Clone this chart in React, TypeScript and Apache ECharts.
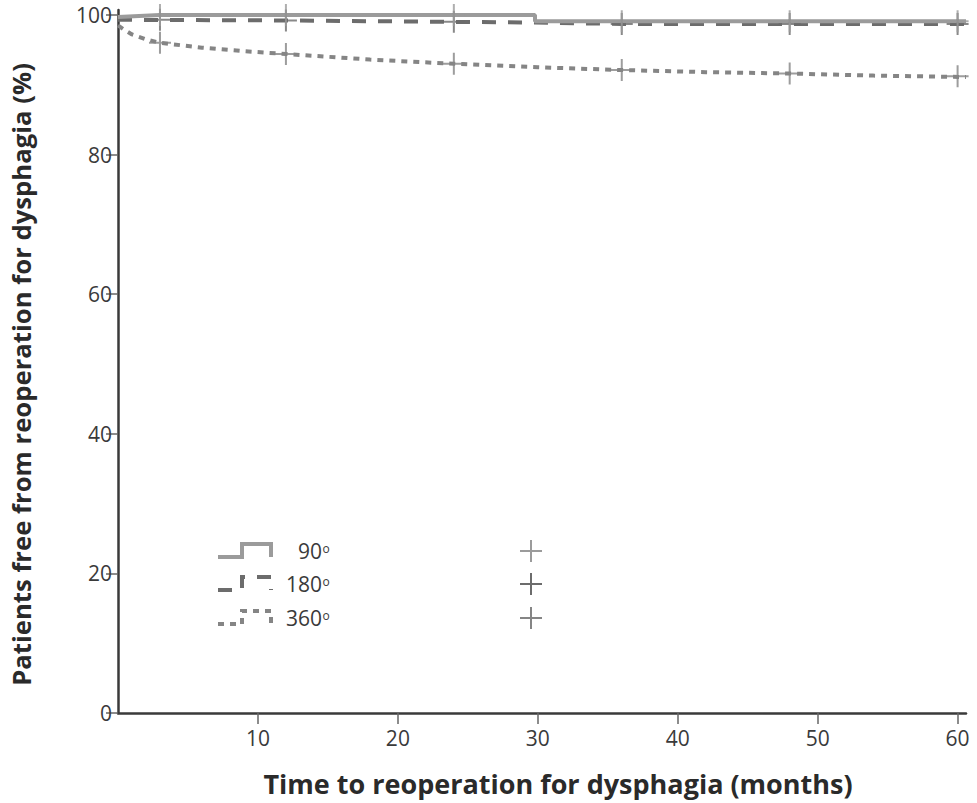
import React, { useEffect, useRef } from "react";
import * as echarts from "echarts";

// Data
const xTicks = [10, 20, 30, 40, 50, 60];
const yTicks = [0, 20, 40, 60, 80, 100];

const series90: [number, number][] = [
  [0, 99.7], [3, 100], [29.8, 100], [29.8, 99.1], [60.6, 99.1],
];
const series180: [number, number][] = [
  [0, 99.3], [12, 99.2], [24, 99.0], [29.8, 98.9], [36, 98.7], [60.6, 98.7],
];
const series360: [number, number][] = [
  [0, 98.5], [0.5, 97.8], [1, 97.2], [2, 96.5], [3, 96.0], [6, 95.3], [9, 94.8],
  [12, 94.4], [18, 93.6], [24, 93.0], [30, 92.5], [36, 92.1], [42, 91.8],
  [48, 91.6], [54, 91.3], [60.6, 91.1],
];
const censor90: [number, number][] = [[3, 100], [12, 100], [24, 100], [36, 99.1], [48, 99.1], [60, 99.1]];
const censor180: [number, number][] = [[3, 99.3], [12, 99.2], [24, 99.0], [36, 98.7], [48, 98.7], [60, 98.7]];
const censor360: [number, number][] = [[3, 96.0], [12, 94.4], [24, 93.0], [36, 92.1], [48, 91.6], [60, 91.2]];

const legendNames = ["90", "180", "360"];

const C90 = "#9b9b9b";
const C180 = "#6c6c6c";
const C360 = "#858585";
const FONT = "'Open Sans', 'Noto Sans', sans-serif";
const PLUS = "path://M-1,-11H1V-1H11V1H1V11H-1V1H-11V-1H-1Z";

export default function App() {
  const ref = useRef<HTMLDivElement>(null);
  useEffect(() => {
    if (!ref.current) return;
    const chart = echarts.init(ref.current, undefined, { renderer: "svg" });
    const legendColors = [C90, C180, C360];
    const legendY = [551, 584, 618];
    const dashes: any[] = [null, [14, 12], [6, 6]];
    const graphics: any[] = [];
    legendNames.forEach((n, i) => {
      const y = legendY[i];
      graphics.push({
        type: "polyline",
        shape: { points: [[218, y + 6], [242, y + 6], [242, y - 7], [271, y - 7], [271, y + 6]] },
        style: { stroke: legendColors[i], lineWidth: 4, fill: null, lineDash: dashes[i] },
      });
      graphics.push({
        type: "text",
        x: 322,
        y: y,
        style: {
          text: n,
          align: "right",
          verticalAlign: "middle",
          fontSize: 21,
          fontFamily: FONT,
          fill: "#3a3a3a",
        },
      });
      graphics.push({
        type: "text",
        x: 322.5,
        y: y - 9,
        style: {
          text: "o",
          align: "left",
          verticalAlign: "top",
          fontSize: 12,
          fontFamily: FONT,
          fill: "#3a3a3a",
        },
      });
      graphics.push({
        type: "line",
        shape: { x1: 520, y1: y, x2: 542, y2: y },
        style: { stroke: legendColors[i], lineWidth: 2 },
      });
      graphics.push({
        type: "line",
        shape: { x1: 531, y1: y - 11, x2: 531, y2: y + 11 },
        style: { stroke: legendColors[i], lineWidth: 2 },
      });
    });

    chart.setOption({
      animation: false,
      textStyle: { fontFamily: FONT },
      grid: { left: 116.7, right: 11, top: 10, bottom: 90, containLabel: false },
      xAxis: {
        type: "value",
        min: 0,
        max: 60.6,
        name: "Time to reoperation for dysphagia (months)",
        nameLocation: "middle",
        nameGap: 57,
        nameTextStyle: { fontSize: 27, fontWeight: "bold", color: "#2a2a2a", fontFamily: FONT, padding: [0, 0, 0, 32] },
        axisLine: { lineStyle: { color: "#3a3a3a", width: 2.5 } },
        axisTick: { show: true, length: 11, lineStyle: { color: "#666", width: 1.5 }, customValues: xTicks },
        axisLabel: { fontSize: 21, color: "#3a3a3a", margin: 14, customValues: xTicks },
        splitLine: { show: false },
      },
      yAxis: {
        type: "value",
        min: 0,
        max: 100.7,
        name: "Patients free from reoperation for dysphagia (%)",
        nameLocation: "middle",
        nameRotate: 90,
        nameGap: 84,
        nameTextStyle: { fontSize: 25.7, fontWeight: "bold", color: "#2a2a2a", fontFamily: FONT, padding: [0, 26, 0, 0] },
        axisLine: { show: true, lineStyle: { color: "#3a3a3a", width: 2.5 } },
        axisTick: { show: true, length: 12, lineStyle: { color: "#666", width: 1.5 }, customValues: yTicks },
        axisLabel: { fontSize: 21, color: "#3a3a3a", margin: 6, customValues: yTicks },
        splitLine: { show: false },
      },
      series: [
        { type: "line", data: series360, symbol: "none", lineStyle: { color: C360, width: 4, type: [6, 6] }, z: 2 },
        { type: "line", data: series180, symbol: "none", lineStyle: { color: C180, width: 4, type: [14, 12] }, z: 3 },
        { type: "line", data: series90, symbol: "none", lineStyle: { color: C90, width: 4 }, z: 4 },
        { type: "scatter", data: censor360, symbol: PLUS, symbolSize: 22, itemStyle: { color: C360 }, z: 5 },
        { type: "scatter", data: censor180, symbol: PLUS, symbolSize: 22, itemStyle: { color: C180 }, z: 5 },
        { type: "scatter", data: censor90, symbol: PLUS, symbolSize: 22, itemStyle: { color: C90 }, z: 5 },
      ],
      graphic: graphics,
    });
    return () => chart.dispose();
  }, []);
  return <div ref={ref} style={{ width: 977, height: 803, position: "absolute", left: 0, top: 0 }} />;
}
